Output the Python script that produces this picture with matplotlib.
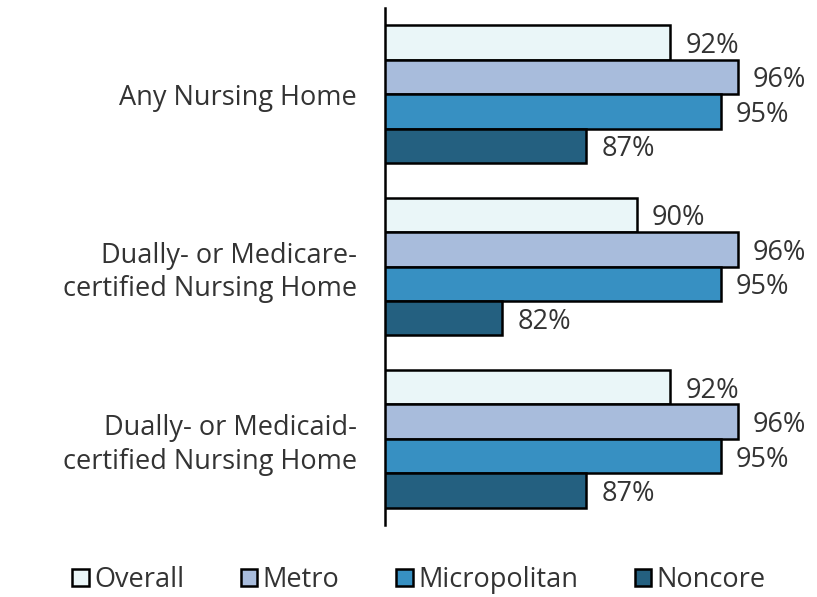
import matplotlib.pyplot as plt
import numpy as np

plt.rcParams['font.family'] = ['Open Sans', 'DejaVu Sans']

categories = ['Any Nursing Home',
              'Dually- or Medicare-\ncertified Nursing Home',
              'Dually- or Medicaid-\ncertified Nursing Home']
series = ['Overall', 'Metro', 'Micropolitan', 'Noncore']
overall = [92, 90, 92]
metro = [96, 96, 96]
micropolitan = [95, 95, 95]
noncore = [87, 82, 87]
colors = ['#EAF6F8', '#A8BCDC', '#3790C2', '#246080']

fig = plt.figure(figsize=(8.17, 5.97), dpi=100)
ax = fig.add_axes([0.471, 0.1206, 0.514, 0.866])

y = np.arange(len(categories))
h = 0.2
values = [overall, metro, micropolitan, noncore]
for i, (name, vals, c) in enumerate(zip(series, values, colors)):
    pos = y - 0.3 + i * h
    ax.barh(pos, vals, height=h, left=0, color=c, edgecolor='black',
            linewidth=1.8, label=name)
    for p, v in zip(pos, vals):
        ax.text(v + 0.9, p + 0.02, f'{v}%', va='center', ha='left',
                fontsize=19.5, color='#333333')

ax.set_xlim(75, 100)
ax.set_ylim(2.5, -0.5)
ax.set_yticks(y)
ax.set_yticklabels(categories, fontsize=19.5, color='#333333', ha='right',
                   linespacing=1.25)
ax.tick_params(axis='y', length=0, pad=20)
ax.set_xticks([])
for s in ['top', 'right', 'bottom']:
    ax.spines[s].set_visible(False)
ax.spines['left'].set_linewidth(1.8)

fig.legend(loc='center', bbox_to_anchor=(0.513, 0.028), ncol=4,
           frameon=False, fontsize=19.5,
           handlelength=0.6, handleheight=0.6, handletextpad=0.2,
           columnspacing=2.1, labelcolor='#333333')

fig.savefig('out.png', dpi=100)
